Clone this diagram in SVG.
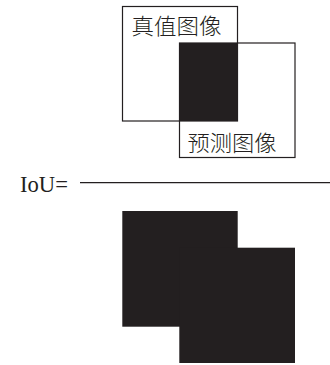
<svg xmlns="http://www.w3.org/2000/svg" width="330" height="365" viewBox="0 0 330 365">
<style>
.box{fill:none;stroke:#231f20;stroke-width:1.2}
.dark{fill:#231f20}
.cjk{font-family:"Noto Sans CJK SC","Noto Sans CJK JP",sans-serif;font-size:22px;fill:#231f20;font-weight:300}
.eq{font-family:"Liberation Serif",serif;font-size:23px;fill:#231f20}
</style>
<rect width="330" height="365" fill="#fff"/>
<g id="truth">
<rect class="box" x="122.5" y="6.5" width="115" height="114.5"/>
<text class="cjk" x="131.5" y="34" textLength="90" lengthAdjust="spacingAndGlyphs">真值图像</text>
</g>
<g id="pred">
<rect class="box" x="179.5" y="43" width="115.5" height="114.5"/>
<text class="cjk" x="187.5" y="151" textLength="89" lengthAdjust="spacingAndGlyphs">预测图像</text>
</g>
<g id="intersection">
<rect class="dark" x="179.5" y="43" width="58" height="78"/>
</g>
<g id="formula">
<text class="eq" x="20" y="191.5" textLength="48" lengthAdjust="spacingAndGlyphs">IoU=</text>
<line x1="80" y1="182.7" x2="330" y2="182.7" stroke="#231f20" stroke-width="1.2"/>
</g>
<g id="union">
<rect class="dark" x="122.3" y="211" width="115.4" height="115.7"/>
<rect class="dark" x="179.3" y="247.7" width="115.7" height="115.3"/>
</g>
<g id="connectors"></g>
</svg>
